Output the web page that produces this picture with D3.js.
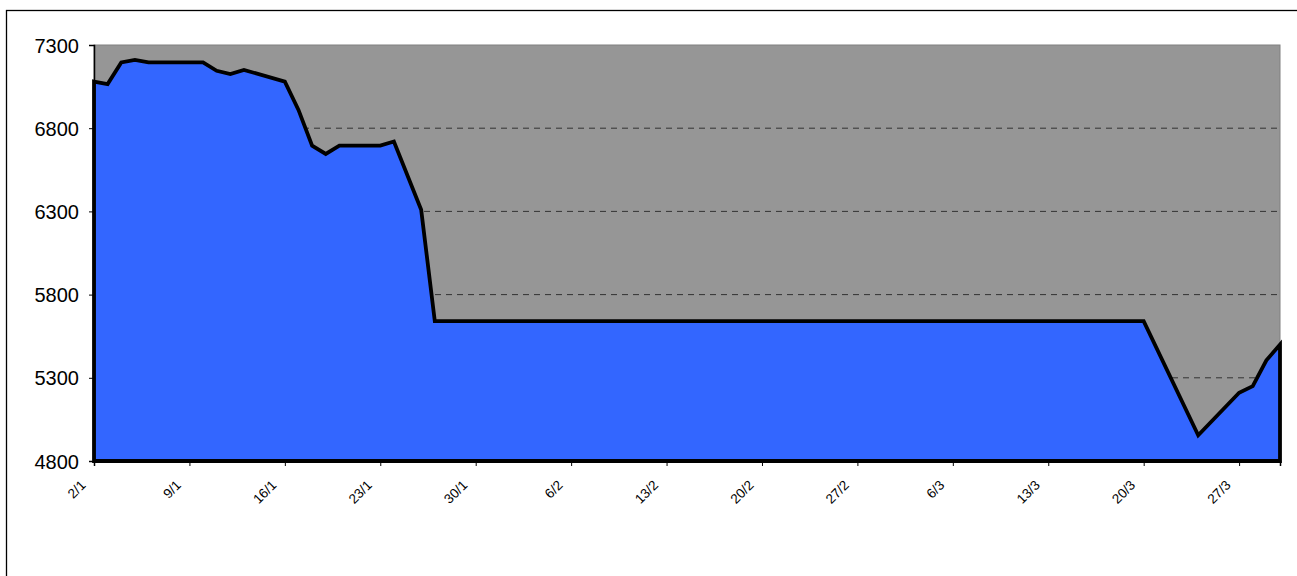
<!DOCTYPE html>
<html><head><meta charset="utf-8">
<script src="https://cdn.jsdelivr.net/npm/d3@7"></script>
<style>body{margin:0;background:#fff;}svg{display:block;font-family:"Liberation Sans",Arial,sans-serif;}</style>
</head><body>
<svg id="c" width="1297" height="576"></svg>
<script>
// Data (dates of the points where the line changes, day/month 2006) and values
const dates = ["2/1","3/1","4/1","5/1","6/1","9/1","10/1","11/1","12/1","13/1","16/1","17/1","18/1","19/1","20/1","23/1","24/1","26/1","27/1","20/3","24/3","27/3","28/3","29/3","30/3"];
const values = [7080,7065,7195,7210,7195,7195,7195,7145,7125,7150,7080,6910,6695,6645,6695,6695,6720,6310,5640,5640,4955,5210,5250,5405,5500];
const tickLabels = ["2/1","9/1","16/1","23/1","30/1","6/2","13/2","20/2","27/2","6/3","13/3","20/3","27/3"];
const yTicks = [4800,5300,5800,6300,6800,7300];
const year = 2006;

const parse = s => { const [d,m] = s.split("/").map(Number); return new Date(year, m-1, d); };
const data = dates.map((s,i)=>({date: parse(s), v: values[i]}));
const tickDates = tickLabels.map(parse);

const svg = d3.select("#c");
const L=94, R=1280, T=45, B=461;
const x = d3.scaleTime().domain([parse("2/1"), parse("30/3")]).range([L,R]);
const y = d3.scaleLinear().domain([4800,7300]).range([B,T]);

// outer frame
svg.append("rect").attr("x",6.5).attr("y",10.5).attr("width",1400).attr("height",700)
  .attr("fill","none").attr("stroke","#000").attr("stroke-width",1.3);

// plot background
svg.append("rect").attr("x",L).attr("y",T).attr("width",R-L).attr("height",B-T)
  .attr("fill","#969696").attr("stroke","#808080").attr("stroke-width",1);

// gridlines
svg.append("g").selectAll("line").data(yTicks.filter(t=>t>4800 && t<7300)).join("line")
  .attr("x1",L).attr("x2",R).attr("y1",d=>y(d)).attr("y2",d=>y(d))
  .attr("stroke","#333").attr("stroke-width",1).attr("stroke-dasharray","6,5");

// area
const area = d3.area().x(d=>x(d.date)).y0(y(4800)).y1(d=>y(d.v));
svg.append("path").datum(data).attr("d",area(data)+"Z")
  .attr("fill","#3366FF").attr("stroke","#000").attr("stroke-width",3.8).attr("stroke-linejoin","miter");

// axes
const yAxis = d3.axisLeft(y).tickValues(yTicks).tickSize(5).tickFormat(d3.format("d"));
const gy = svg.append("g").attr("transform",`translate(${L},0)`).call(yAxis);
gy.select(".domain").attr("stroke","#000").attr("stroke-width",1.5);
gy.selectAll(".tick line").attr("stroke","#000");
gy.selectAll(".tick text").attr("font-size",20).attr("fill","#000").attr("x",-15).attr("dy","0.35em");

const xAxis = d3.axisBottom(x).tickValues(tickDates).tickSize(5).tickFormat((d,i)=>tickLabels[i]);
const gx = svg.append("g").attr("transform",`translate(0,${B})`).call(xAxis);
gx.select(".domain").attr("stroke","#000").attr("stroke-width",1.5);
gx.selectAll(".tick line").attr("stroke","#000");
gx.selectAll(".tick text").attr("font-size",13.5).attr("fill","#000")
  .attr("text-anchor","end").attr("y",0).attr("dy",0)
  .attr("transform","translate(-8,25) rotate(-45)");
</script>
</body></html>
